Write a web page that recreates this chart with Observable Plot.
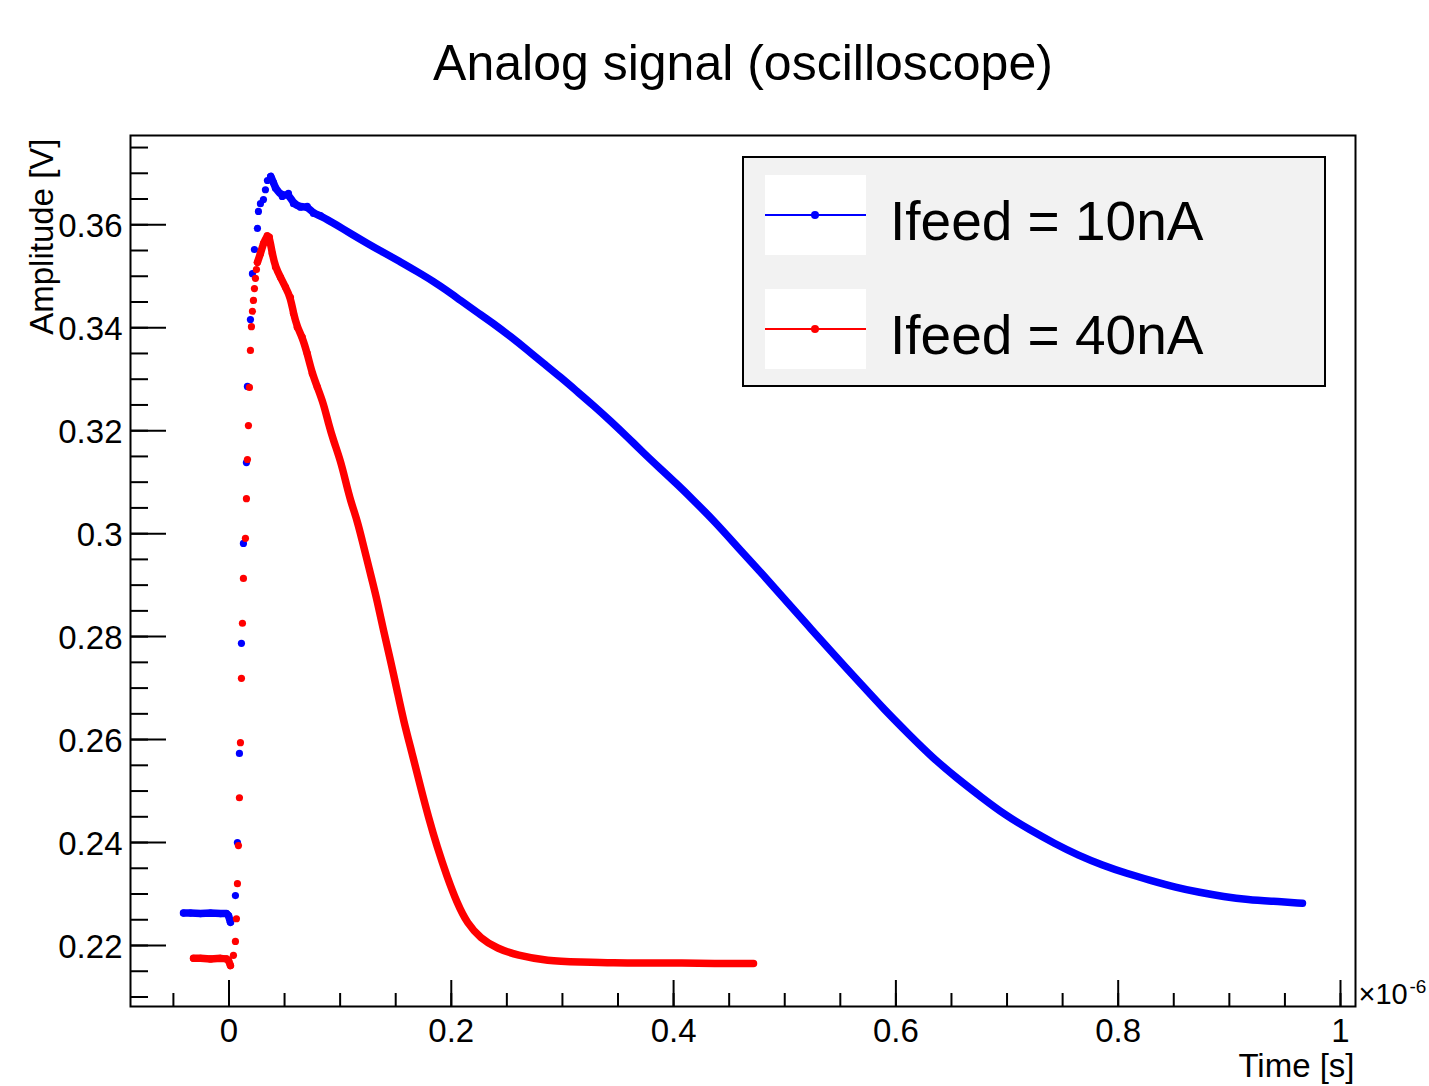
<!DOCTYPE html>
<html><head><meta charset="utf-8">
<script src="https://cdn.jsdelivr.net/npm/d3@7"></script>
<script src="https://cdn.jsdelivr.net/npm/@observablehq/plot@0.6"></script>
<style>
html,body{margin:0;padding:0;background:#fff;}
#wrap{position:relative;width:1429px;height:1086px;overflow:hidden;font-family:"Liberation Sans",Arial,Helvetica,sans-serif;}
#legend{position:absolute;left:743px;top:157px;}
</style></head><body><div id="wrap"></div>
<script>
// ---- data (time in microseconds, amplitude in volts) ----
const blueBaseT = [-0.0409, -0.0346, -0.0256, -0.0166, -0.0076, -0.0022, -0.0004, 0.0013];
const blueBaseV = [0.2263, 0.2263, 0.2262, 0.2263, 0.2262, 0.2262, 0.2258, 0.2245];
const blueRiseT = [0.0058, 0.0076, 0.0094, 0.0112, 0.0130, 0.0157, 0.0166, 0.0193, 0.0211, 0.0229, 0.0256, 0.0265, 0.0283, 0.0310, 0.0328, 0.0346];
const blueRiseV = [0.2297, 0.2400, 0.2573, 0.2787, 0.2981, 0.3138, 0.3286, 0.3416, 0.3505, 0.3552, 0.3593, 0.3626, 0.3641, 0.3649, 0.3668, 0.3686];
const blueDecayT = [0.0376, 0.0400, 0.0418, 0.0479, 0.0535, 0.0580, 0.0643, 0.0704, 0.0760, 0.0823, 0.0973, 0.1093, 0.1243, 0.1390, 0.1543, 0.1693, 0.1840, 0.1963, 0.2083, 0.2233, 0.2380, 0.2533, 0.2683, 0.2829, 0.2982, 0.3133, 0.3279, 0.3432, 0.3583, 0.3729, 0.3882, 0.4032, 0.4179, 0.4368, 0.4584, 0.4809, 0.5025, 0.5240, 0.5456, 0.5681, 0.5897, 0.6113, 0.6329, 0.6554, 0.6770, 0.6986, 0.7202, 0.7427, 0.7643, 0.7859, 0.8075, 0.8300, 0.8516, 0.8732, 0.8948, 0.9172, 0.9388, 0.9658];
const blueDecayV = [0.3694, 0.3682, 0.3671, 0.3655, 0.3661, 0.3641, 0.3634, 0.3636, 0.3622, 0.3618, 0.3599, 0.3583, 0.3564, 0.3546, 0.3528, 0.3509, 0.3490, 0.3472, 0.3453, 0.3430, 0.3408, 0.3383, 0.3357, 0.3331, 0.3304, 0.3276, 0.3249, 0.3219, 0.3188, 0.3157, 0.3126, 0.3096, 0.3065, 0.3024, 0.2972, 0.2919, 0.2866, 0.2814, 0.2762, 0.2709, 0.2658, 0.2611, 0.2565, 0.2524, 0.2488, 0.2453, 0.2425, 0.2398, 0.2375, 0.2356, 0.2340, 0.2326, 0.2313, 0.2303, 0.2295, 0.2289, 0.2286, 0.2282];

const redBaseT = [-0.0319, -0.0256, -0.0166, -0.0076, -0.0022, -0.0004, 0.0013];
const redBaseV = [0.2175, 0.2175, 0.2174, 0.2175, 0.2174, 0.2171, 0.2161];
const redRiseT = [0.0040, 0.0058, 0.0067, 0.0076, 0.0085, 0.0094, 0.0103, 0.0112, 0.0121, 0.0130, 0.0148, 0.0157, 0.0166, 0.0175, 0.0184, 0.0193, 0.0202, 0.0211, 0.0220, 0.0229, 0.0238, 0.0247];
const redRiseV = [0.2181, 0.2208, 0.2252, 0.2320, 0.2394, 0.2487, 0.2594, 0.2719, 0.2826, 0.2913, 0.2991, 0.3068, 0.3144, 0.3210, 0.3284, 0.3356, 0.3402, 0.3432, 0.3453, 0.3476, 0.3496, 0.3513];
const redDecayT = [0.0256, 0.0283, 0.0310, 0.0344, 0.0364, 0.0389, 0.0418, 0.0463, 0.0508, 0.0553, 0.0580, 0.0614, 0.0659, 0.0704, 0.0749, 0.0794, 0.0850, 0.0895, 0.0940, 0.1003, 0.1048, 0.1093, 0.1153, 0.1198, 0.1243, 0.1288, 0.1333, 0.1390, 0.1453, 0.1513, 0.1570, 0.1648, 0.1723, 0.1795, 0.1873, 0.1963, 0.2053, 0.2143, 0.2263, 0.2413, 0.2593, 0.2863, 0.3162, 0.3459, 0.3762, 0.4062, 0.4359, 0.4719];
const redDecayV = [0.3527, 0.3544, 0.3564, 0.3579, 0.3576, 0.3544, 0.3518, 0.3498, 0.3479, 0.3459, 0.3428, 0.3401, 0.3382, 0.3350, 0.3311, 0.3285, 0.3253, 0.3214, 0.3181, 0.3142, 0.3103, 0.3064, 0.3026, 0.2987, 0.2948, 0.2909, 0.2870, 0.2812, 0.2754, 0.2695, 0.2637, 0.2573, 0.2508, 0.2449, 0.2391, 0.2333, 0.2282, 0.2243, 0.2214, 0.2194, 0.2181, 0.2170, 0.2168, 0.2166, 0.2166, 0.2166, 0.2165, 0.2165];

const seriesNames = ["Ifeed = 10nA", "Ifeed = 40nA"];
const seriesColors = ["#0000ff", "#ff0000"];

const xMajor = [0, 0.2, 0.4, 0.6, 0.8, 1];
const xMajorLabels = ["0", "0.2", "0.4", "0.6", "0.8", "1"];
const xMinor = [-0.05, 0, 0.05, 0.1, 0.15, 0.2, 0.25, 0.3, 0.35, 0.4, 0.45, 0.5, 0.55, 0.6, 0.65, 0.7, 0.75, 0.8, 0.85, 0.9, 0.95, 1];
const yMajor = [0.22, 0.24, 0.26, 0.28, 0.30, 0.32, 0.34, 0.36];
const yMajorLabels = ["0.22", "0.24", "0.26", "0.28", "0.3", "0.32", "0.34", "0.36"];
const yMinor = [0.21, 0.215, 0.22, 0.225, 0.23, 0.235, 0.24, 0.245, 0.25, 0.255, 0.26, 0.265, 0.27, 0.275, 0.28, 0.285, 0.29, 0.295, 0.30, 0.305, 0.31, 0.315, 0.32, 0.325, 0.33, 0.335, 0.34, 0.345, 0.35, 0.355, 0.36, 0.365, 0.37, 0.375];

// ---- build tables ----
const rows = (T, V) => T.map((t, i) => ({t, v: V[i]}));
const blueBase = rows(blueBaseT, blueBaseV), blueRise = rows(blueRiseT, blueRiseV), blueDecay = rows(blueDecayT, blueDecayV);
const redBase = rows(redBaseT, redBaseV), redRise = rows(redRiseT, redRiseV), redDecay = rows(redDecayT, redDecayV);

const FONT = '"Liberation Sans", Arial, Helvetica, sans-serif';
const lineOpts = (c, curve) => ({x: "t", y: "v", stroke: c, strokeWidth: 7.5, strokeLinecap: "round", strokeLinejoin: "round", curve});
const dotOpts = (c) => ({x: "t", y: "v", r: 3.6, fill: c, stroke: null});
const nearPeak = (d) => d.t < 0.085;

const chart = Plot.plot({
  width: 1429, height: 1086,
  marginLeft: 130, marginRight: 74, marginTop: 135, marginBottom: 80,
  style: {fontFamily: FONT, background: "white", color: "black", overflow: "visible"},
  x: {domain: [-0.0886, 1.0135]},
  y: {domain: [0.20815, 0.37734]},
  marks: [
    // series 10nA
    Plot.line(blueBase, lineOpts(seriesColors[0], "linear")),
    Plot.dot(blueBase, dotOpts(seriesColors[0])),
    Plot.dot(blueRise, dotOpts(seriesColors[0])),
    Plot.line(blueDecay, lineOpts(seriesColors[0], "basis")),
    Plot.dot(blueDecay, {...dotOpts(seriesColors[0]), filter: nearPeak}),
    // series 40nA
    Plot.line(redBase, lineOpts(seriesColors[1], "linear")),
    Plot.dot(redBase, dotOpts(seriesColors[1])),
    Plot.dot(redRise, dotOpts(seriesColors[1])),
    Plot.line(redDecay, lineOpts(seriesColors[1], "basis")),
    Plot.dot(redDecay, {...dotOpts(seriesColors[1]), filter: nearPeak}),
    // frame and inward ticks
    Plot.frame({stroke: "black", strokeWidth: 2}),
    Plot.axisY({ticks: yMinor, tickSize: -18, fill: "none", stroke: "black", strokeWidth: 2, label: null}),
    Plot.axisY({ticks: yMajor, tickSize: -36, fill: "none", stroke: "black", strokeWidth: 2, label: null}),
    Plot.axisY({ticks: yMajor, tickSize: 0, tickPadding: 8, fontSize: 33, dy: 2, fill: "black", label: null,
      tickFormat: (d) => yMajorLabels[yMajor.indexOf(d)]}),
    Plot.axisX({ticks: xMinor, tickSize: -13, fill: "none", stroke: "black", strokeWidth: 2, label: null}),
    Plot.axisX({ticks: xMajor, tickSize: -26, fill: "none", stroke: "black", strokeWidth: 2, label: null}),
    Plot.axisX({ticks: xMajor, tickSize: 0, tickPadding: 12, fontSize: 33, fill: "black", label: null,
      tickFormat: (d) => xMajorLabels[xMajor.indexOf(d)]}),
    // texts
    Plot.text(["Analog signal (oscilloscope)"], {frameAnchor: "top", lineAnchor: "bottom", dy: -56, fontSize: 50, fill: "black"}),
    Plot.text(["Amplitude [V]"], {frameAnchor: "top-left", rotate: -90, textAnchor: "end", lineAnchor: "bottom", dx: -78, dy: 3, fontSize: 33, fill: "black"}),
    Plot.text(["Time [s]"], {frameAnchor: "bottom-right", textAnchor: "end", lineAnchor: "bottom", dx: -1, dy: 70, fontSize: 33, fill: "black"}),
    Plot.text(["×10"], {frameAnchor: "bottom-right", textAnchor: "start", lineAnchor: "bottom", dx: 3, dy: -3, fontSize: 29, fill: "black"}),
    Plot.text(["-6"], {frameAnchor: "bottom-right", textAnchor: "start", lineAnchor: "bottom", dx: 54, dy: -14, fontSize: 19, fill: "black"})
  ]
});

const wrap = document.getElementById("wrap");
wrap.appendChild(chart);

// ---- legend ----
const ns = "http://www.w3.org/2000/svg";
const leg = document.createElementNS(ns, "svg");
leg.setAttribute("id", "legend");
leg.setAttribute("width", 584);
leg.setAttribute("height", 232);
leg.style.position = "absolute";
leg.style.left = "742px";
leg.style.top = "156px";
let html = `<rect x="1" y="1" width="582" height="229" fill="#f2f2f2" stroke="black" stroke-width="2"/>`;
seriesNames.forEach((name, i) => {
  const top = 19 + i * 114;
  const cy = top + 40;
  html += `<rect x="23" y="${top}" width="101" height="80" fill="white"/>`;
  html += `<line x1="23" x2="124" y1="${cy}" y2="${cy}" stroke="${seriesColors[i]}" stroke-width="2"/>`;
  html += `<circle cx="73" cy="${cy}" r="4" fill="${seriesColors[i]}"/>`;
  html += `<text x="148" y="${cy + 25}" font-size="55" font-family='${FONT}' fill="black">${name}</text>`;
});
leg.innerHTML = html;
wrap.appendChild(leg);
</script>
</body></html>
